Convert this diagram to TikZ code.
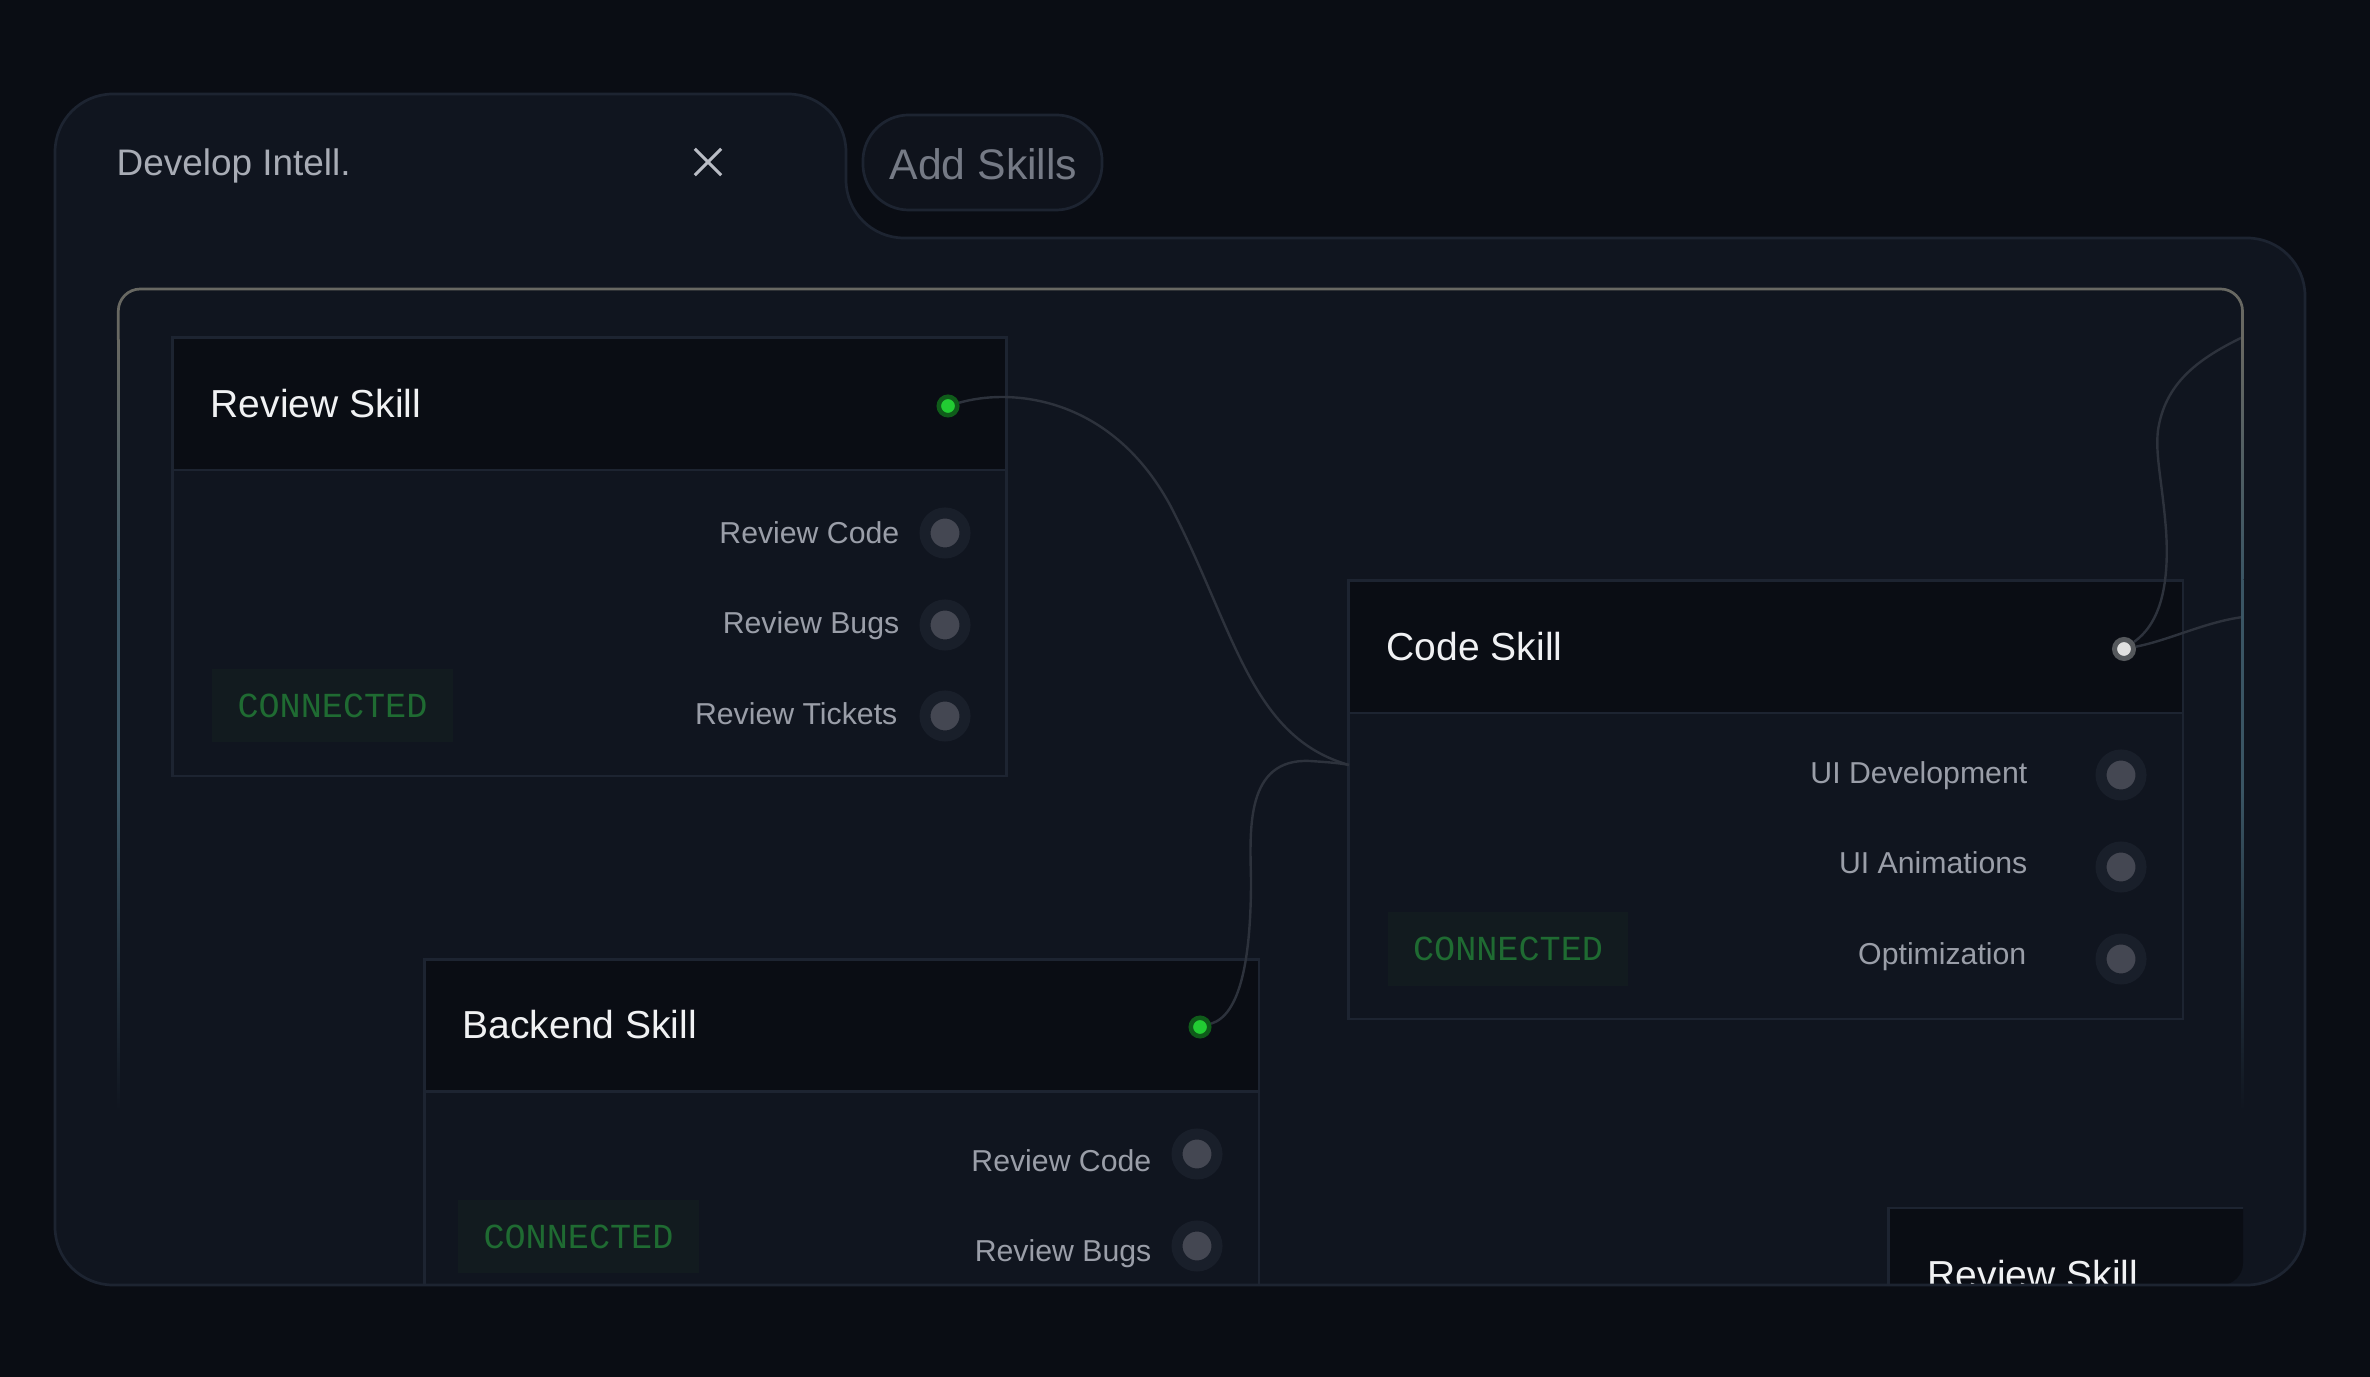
\documentclass[tikz,border=0pt]{standalone}
\usepackage{fontspec}
\usepackage{xcolor}
\setmainfont{Liberation Sans}
\newfontfamily\badgefont{Liberation Mono}
\definecolor{pagebg}{RGB}{10,13,20}
\definecolor{panelbg}{RGB}{16,21,31}
\definecolor{panelline}{RGB}{29,36,49}
\definecolor{headbg}{RGB}{10,13,20}
\definecolor{pillbg}{RGB}{15,19,28}
\definecolor{framegray}{RGB}{104,104,98}
\definecolor{frameteal}{RGB}{58,85,100}
\definecolor{wirecolor}{RGB}{45,50,60}
\definecolor{titlecolor}{RGB}{240,241,243}
\definecolor{labelcolor}{RGB}{154,158,168}
\definecolor{tabcolor}{RGB}{168,172,181}
\definecolor{pillcolor}{RGB}{117,122,133}
\definecolor{closecolor}{RGB}{185,188,196}
\definecolor{badgebg}{RGB}{18,27,31}
\definecolor{badgetext}{RGB}{31,107,50}
\definecolor{portring}{RGB}{25,31,42}
\definecolor{portcore}{RGB}{68,71,82}
\definecolor{livering}{RGB}{15,92,26}
\definecolor{livecore}{RGB}{34,204,51}
\definecolor{hotring}{RGB}{85,88,92}
\definecolor{hotcore}{RGB}{224,224,224}
\tikzset{
  skillcard/.style={draw=panelline,line width=0.027cm,fill=panelbg,rectangle,anchor=north west,inner sep=0pt,minimum width=8.34cm,minimum height=4.38cm},
  skillhead/.style={draw=panelline,line width=0.027cm,fill=headbg,rectangle,anchor=north west,inner sep=0pt,minimum width=8.34cm,minimum height=1.32cm},
  skilltitle/.style={anchor=base west,inner sep=0pt,text=titlecolor,font=\fontsize{11.1}{13}\selectfont},
  skilllabel/.style={anchor=base east,inner sep=0pt,text=labelcolor,font=\fontsize{8.6}{10}\selectfont},
  skillport/.style={circle,fill=portcore,draw=portring,line width=0.11cm,inner sep=0pt,minimum size=0.40cm},
  statusbadge/.style={rectangle,fill=badgebg,inner sep=0pt,minimum width=2.4cm,minimum height=0.73cm,text=badgetext,font=\badgefont\fontsize{10}{12}\selectfont},
  livedot/.style={circle,fill=livecore,draw=livering,line width=0.045cm,inner sep=0pt,minimum size=0.185cm},
  hotdot/.style={circle,fill=hotcore,draw=hotring,line width=0.05cm,inner sep=0pt,minimum size=0.19cm},
  wire/.style={draw=wirecolor,line width=0.024cm},
  panelshape/.style={rounded corners=0.58cm,line width=0.027cm}
}

\begin{document}
\begin{tikzpicture}[x=0.01cm,y=-0.01cm]
\useasboundingbox (0,0) rectangle (2370,1377);
\fill[pagebg] (0,0) rectangle (2370,1377);

% Main panel with its tab
\fill[panelbg,panelshape] (55,94) -- (846,94) -- (846,238) -- (2305,238) -- (2305,1285) -- (55,1285) -- cycle;

% Tab contents
\node[anchor=base west,inner sep=0pt,text=tabcolor,font=\fontsize{10.5}{12}\selectfont] (tabtitle) at (116,175.5) {Develop Intell.};
\node[inner sep=0pt,minimum size=0.25cm] (tabclose) at (708,162) {};
\draw[closecolor,line width=0.03cm] (tabclose.north west) -- (tabclose.south east);
\draw[closecolor,line width=0.03cm] (tabclose.north east) -- (tabclose.south west);

% Add button
\node[draw=panelline,fill=pillbg,line width=0.027cm,rounded corners=0.46cm,inner sep=0pt,minimum width=2.39cm,minimum height=0.95cm] (addpill) at (982.5,162.5) {};
\node[anchor=base west,inner sep=0pt,text=pillcolor,font=\fontsize{12.15}{14}\selectfont] (addtext) at (889,179.5) {Add Skills};

% Everything on the canvas stays inside its frame
\begin{scope}
\clip[rounded corners=0.22cm] (118,289) rectangle (2243,1285);

% Review Skill card
\node[skillcard] (review) at (171,336.5) {};
\node[skillhead] (reviewhead) at (171,336.5) {};
\node[skilltitle] (reviewtitle) at (210,418) {Review Skill};
\node[skilllabel] (reviewcode) at (900,544) {Review Code};
\node[skilllabel] (reviewbugs) at (900,634) {Review Bugs};
\node[skilllabel] (reviewtickets) at (898,725) {Review Tickets};
\node[skillport] (reviewportA) at (945,533) {};
\node[skillport] (reviewportB) at (945,625) {};
\node[skillport] (reviewportC) at (945,716) {};
\node[statusbadge] (reviewbadge) at (332.5,705.5) {CONNECTED};

% Code Skill card
\node[skillcard] (code) at (1347,579.5) {};
\node[skillhead] (codehead) at (1347,579.5) {};
\node[skilltitle] (codetitle) at (1386,661) {Code Skill};
\node[skilllabel] (codeui) at (2028,784) {UI Development};
\node[skilllabel] (codeanim) at (2028,874) {UI Animations};
\node[skilllabel] (codeopt) at (2027,965) {Optimization};
\node[skillport] (codeportA) at (2121,775) {};
\node[skillport] (codeportB) at (2121,867) {};
\node[skillport] (codeportC) at (2121,959) {};
\node[statusbadge] (codebadge) at (1508,949) {CONNECTED};

% Backend Skill card
\node[skillcard] (backend) at (423,958) {};
\node[skillhead] (backendhead) at (423,958) {};
\node[skilltitle] (backendtitle) at (462,1039) {Backend Skill};
\node[skilllabel] (backendcode) at (1152,1171) {Review Code};
\node[skilllabel] (backendbugs) at (1152,1261) {Review Bugs};
\node[skillport] (backendportA) at (1197,1154) {};
\node[skillport] (backendportB) at (1197,1246) {};
\node[statusbadge] (backendbadge) at (578.5,1236.5) {CONNECTED};

% Cut off card in the corner
\node[skillhead] (extrahead) at (1887,1206.5) {};
\node[skilltitle] (extratitle) at (1927,1288) {Review Skill};

% Status dots
\node[livedot] (reviewdot) at (948,406) {};
\node[livedot] (backenddot) at (1200,1027) {};
\node[hotdot] (codedot) at (2124,649) {};

% Connection lines
\coordinate (codein) at (1349,765);
\coordinate (frametop) at (2243,337);
\coordinate (frameside) at (2243,617);
\draw[wire] (reviewdot) .. controls (1010,388) and (1110,395) .. (1170,505) .. controls (1235,630) and (1250,737) .. (codein);
\draw[wire] (backenddot) .. controls (1240,1015) and (1251,960) .. (1251,880) .. controls (1250,830) and (1245,758) .. (1310,761) .. controls (1325,762) and (1340,763) .. (codein);
\draw[wire] (codedot) .. controls (2158,625) and (2170,590) .. (2166,530) .. controls (2162,480) and (2155,455) .. (2158,430) .. controls (2165,385) and (2195,360) .. (frametop);
\draw[wire] (codedot) .. controls (2170,640) and (2205,622) .. (frameside);
\end{scope}

% Canvas frame, gray on top, then teal, then fading out
\draw[framegray,line width=0.027cm,rounded corners=0.22cm] (118.3,340) -- (118.3,289) -- (2242.5,289) -- (2242.5,340);
\shade[top color=framegray,bottom color=frameteal] (117,340) rectangle (119.5,580);
\fill[frameteal] (117,580) rectangle (119.5,790);
\shade[top color=frameteal,bottom color=panelbg] (117,790) rectangle (119.5,1110);
\shade[top color=framegray,bottom color=frameteal] (2241.2,340) rectangle (2243.7,580);
\fill[frameteal] (2241.2,580) rectangle (2243.7,790);
\shade[top color=frameteal,bottom color=panelbg] (2241.2,790) rectangle (2243.7,1110);

% Panel outline goes on top of the clipped cards
\draw[panelline,panelshape] (55,94) -- (846,94) -- (846,238) -- (2305,238) -- (2305,1285) -- (55,1285) -- cycle;
\end{tikzpicture}
\end{document}
